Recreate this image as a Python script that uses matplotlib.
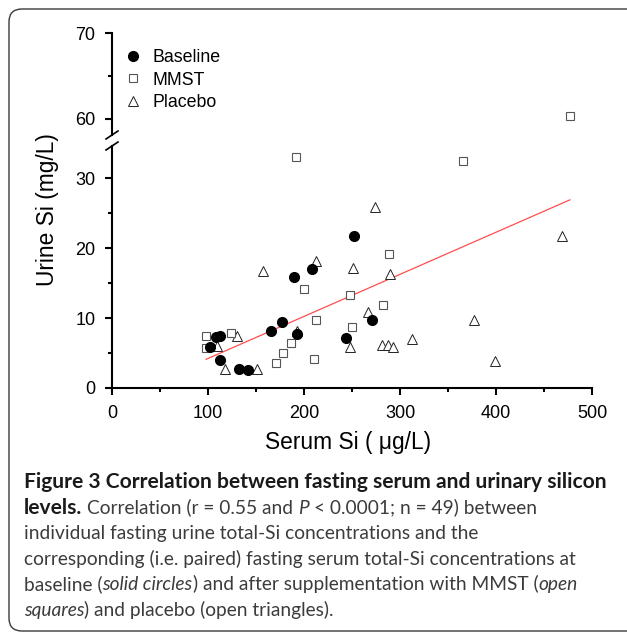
import matplotlib
matplotlib.use("Agg")
import matplotlib.pyplot as plt
from matplotlib.patches import FancyBboxPatch
from matplotlib.transforms import IdentityTransform

# data
baseline_x = [102, 108, 113, 112, 132, 142, 166, 177, 190, 193, 208, 244, 252, 271]
baseline_y = [5.9, 7.3, 7.4, 4.0, 2.7, 2.6, 8.2, 9.4, 15.9, 7.7, 17.0, 7.1, 21.7, 9.7]
mmst_x = [98, 98, 124, 171, 178, 186, 192, 200, 210, 213, 248, 250, 282, 289, 366, 477]
mmst_y = [7.5, 5.7, 7.9, 3.6, 5.0, 6.4, 33.0, 14.1, 4.1, 9.7, 13.3, 8.7, 11.9, 19.1, 32.5, 60.3]
placebo_x = [109, 118, 130, 151, 157, 193, 212, 248, 251, 267, 274, 281, 287, 293, 290, 312, 377, 399, 469]
placebo_y = [6.0, 2.7, 7.5, 2.7, 16.7, 8.2, 18.1, 5.8, 17.2, 10.9, 25.9, 6.1, 6.2, 5.8, 16.3, 7.0, 9.7, 3.9, 21.7]
fit_x = [98, 477]
fit_y = [4.1, 26.9]

x_ticks = [0, 100, 200, 300, 400, 500]
y_ticks_lo = [0, 10, 20, 30]
y_ticks_hi = [60, 70]

caption = [
    [("Figure 3 Correlation between fasting serum and urinary silicon", "bold", "normal")],
    [("levels.", "bold", "normal"), (" ", "normal", "normal"),
     ("Correlation (r = 0.55 and", "normal", "normal"), (" ", "normal", "normal"),
     ("P", "normal", "italic"), (" ", "normal", "normal"),
     ("< 0.0001; n = 49) between", "normal", "normal")],
    [("individual fasting urine total-Si concentrations and the", "normal", "normal")],
    [("corresponding (i.e. paired) fasting serum total-Si concentrations at", "normal", "normal")],
    [("baseline (", "normal", "normal"), ("solid circles", "normal", "italic"),
     (") and after supplementation with MMST (", "normal", "normal"), ("open", "normal", "italic")],
    [("squares", "normal", "italic"), (") and placebo (open triangles).", "normal", "normal")],
]

W, H = 627, 634
plt.rcParams["font.family"] = ["Liberation Sans", "DejaVu Sans"]
fig = plt.figure(figsize=(W / 100, H / 100), dpi=100)

# rounded frame, cut off on the right like the original
frame = FancyBboxPatch((9, 3), 700, 622, boxstyle="round,pad=0,rounding_size=13",
                       transform=IdentityTransform(), fill=False, ec="#3a3a3a", lw=1.0)
fig.patches.append(frame)

ax_lo = fig.add_axes([112 / W, 1 - 388 / H, 480 / W, 242 / H])
ax_hi = fig.add_axes([112 / W, 1 - 135 / H, 480 / W, 102 / H])

for ax in (ax_lo, ax_hi):
    ax.plot(fit_x, fit_y, color="#ff4d4d", lw=0.9, zorder=2)
    ax.plot(placebo_x, placebo_y, ls="none", marker="^", ms=7.5, mfc="white",
            mec="#222222", mew=0.7, label="Placebo", zorder=3)
    ax.plot(mmst_x, mmst_y, ls="none", marker="s", ms=5.5, mfc="white",
            mec="#555555", mew=0.8, label="MMST", zorder=4)
    ax.plot(baseline_x, baseline_y, ls="none", marker="o", ms=7, color="black",
            label="Baseline", zorder=5)
    ax.set_xlim(0, 500)
    for s in ("top", "right"):
        ax.spines[s].set_visible(False)
    ax.spines["left"].set_linewidth(1.5)
    ax.spines["bottom"].set_linewidth(1.5)
    ax.tick_params(which="major", length=5, width=1.5, labelsize=13, pad=7)
    ax.tick_params(which="minor", length=3, width=1.5)
    ax.patch.set_alpha(0)

ax_lo.set_ylim(0, 34.6)
ax_lo.set_xticks(x_ticks)
ax_lo.set_xticks([50, 150, 250, 350, 450], minor=True)
ax_lo.set_yticks(y_ticks_lo)
ax_lo.set_yticks([5, 15, 25], minor=True)

ax_hi.set_ylim(58.1, 70)
ax_hi.set_yticks(y_ticks_hi)
ax_hi.set_yticks([65], minor=True)
ax_hi.spines["bottom"].set_visible(False)
ax_hi.xaxis.set_visible(False)

# break marks on the y axis
dx = 6 / 480
kw = dict(color="black", lw=1.2, clip_on=False)
ax_lo.plot([-dx, dx], [1 - 4 / 242, 1 + 4 / 242], transform=ax_lo.transAxes, **kw)
ax_hi.plot([-dx, dx], [-4 / 102, 4 / 102], transform=ax_hi.transAxes, **kw)

h, l = ax_hi.get_legend_handles_labels()
order = [2, 1, 0]
ax_hi.legend([h[i] for i in order], [l[i] for i in order], loc="upper left",
             bbox_to_anchor=(126 / W, 1 - 49 / H), bbox_transform=fig.transFigure,
             frameon=False, fontsize=12.8, handlelength=0.75, handletextpad=0.75,
             labelspacing=0.32, borderpad=0, borderaxespad=0)

fig.text(348 / W, 1 - 442 / H, "Serum Si ( \u03bcg/L)", fontsize=16.4, ha="center", va="center")
fig.text(48 / W, 1 - 210 / H, "Urine Si (mg/L)", fontsize=16.4, ha="center", va="center",
         rotation=90)

# caption with mixed styles
r = fig.canvas.get_renderer()


def text_w(s, size, weight, style):
    t = fig.text(0, 0, s, fontsize=size, fontweight=weight, fontstyle=style, family="Lato")
    w = t.get_window_extent(r).width
    t.remove()
    return w


bold_size = 10 * 584 / text_w(caption[0][0][0], 10, "bold", "normal")
norm_size = 10 * 552 / text_w(caption[3][0][0], 10, "normal", "normal")
x0 = 24
for i, line in enumerate(caption):
    y = H - (488 + 25.6 * i)
    x = x0
    for s, weight, style in line:
        size = bold_size if weight == "bold" else norm_size
        if s == " ":
            x += text_w("x x", size, weight, style) - text_w("xx", size, weight, style)
            continue
        col = "#1a1a1a" if weight == "bold" else "#3c3c3c"
        t = fig.text(x, y, s, fontsize=size, fontweight=weight, fontstyle=style,
                     family="Lato", color=col, va="baseline", transform=IdentityTransform())
        x += t.get_window_extent(r).width

fig.savefig("out.png", dpi=100)
